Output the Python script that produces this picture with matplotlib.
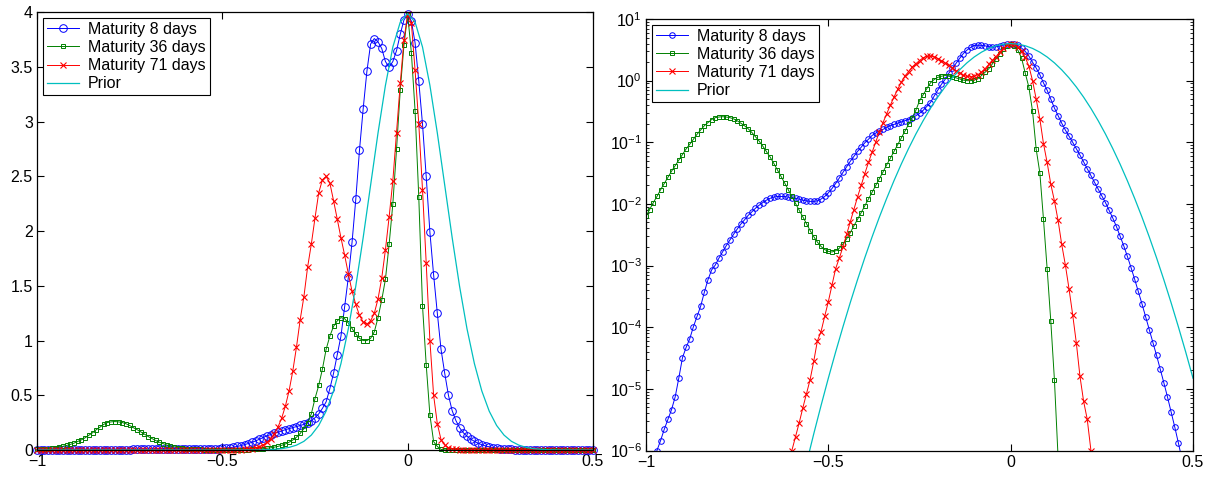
import numpy as np
import matplotlib
matplotlib.use("Agg")
import matplotlib.pyplot as plt
from matplotlib.ticker import FuncFormatter, LogLocator, NullFormatter

plt.rcParams['font.family'] = ['Liberation Sans', 'DejaVu Sans']
plt.rcParams['mathtext.default'] = 'regular'

# sample points of the three maturities, -1 .. 0.5 in steps of 0.01
x = np.linspace(-1.0, 0.5, 151)

# density, maturity 8 days (one row = 0.1 in x)
dens_8 = [
    2.5e-7, 4.0e-7, 6.3e-7, 1.0e-6, 1.45e-6, 2.2e-6, 3.2e-6, 4.6e-6, 7.4e-6, 1.5e-5,
    3.2e-5, 4.7e-5, 6.5e-5, 1.02e-4, 1.5e-4, 2.2e-4, 3.7e-4, 5.9e-4, 8.5e-4, 1.02e-3,
    1.32e-3, 1.66e-3, 2.1e-3, 2.6e-3, 3.2e-3, 3.9e-3, 4.7e-3, 5.5e-3, 6.5e-3, 7.4e-3,
    8.5e-3, 9.5e-3, 0.0105, 0.0115, 0.0123, 0.0129, 0.0132, 0.0132, 0.0132, 0.0129,
    0.0126, 0.0123, 0.0120, 0.0115, 0.0112, 0.0110, 0.0110, 0.0112, 0.0120, 0.0132,
    0.0151, 0.0178, 0.0214, 0.0263, 0.0324, 0.0398, 0.049, 0.059, 0.071, 0.083,
    0.098, 0.112, 0.129, 0.141, 0.155, 0.162, 0.174, 0.186, 0.195, 0.204,
    0.214, 0.224, 0.234, 0.251, 0.269, 0.295, 0.33, 0.38, 0.44, 0.56,
    0.70, 0.87, 1.04, 1.31, 1.58, 1.90, 2.29, 2.74, 3.12, 3.46,
    3.71, 3.76, 3.73, 3.67, 3.55, 3.50, 3.55, 3.65, 3.80, 3.93,
    3.98, 3.92, 3.72, 3.37, 2.98, 2.50, 1.99, 1.60, 1.25, 0.92,
    0.70, 0.50, 0.36, 0.27, 0.204, 0.158, 0.126, 0.100, 0.079, 0.062,
    0.048, 0.037, 0.029, 0.0224, 0.0174, 0.0135, 0.0105, 7.9e-3, 5.9e-3, 4.3e-3,
    3.0e-3, 2.1e-3, 1.41e-3, 9.3e-4, 6.0e-4, 3.8e-4, 2.4e-4, 1.48e-4, 9.1e-5, 5.6e-5,
    3.5e-5, 2.1e-5, 1.26e-5, 7.4e-6, 4.2e-6, 2.4e-6, 1.32e-6, 7.1e-7, 3.7e-7, 1.9e-7,
    1.0e-7,
]

# density, maturity 36 days
dens_36 = [
    6.3e-3, 8.1e-3, 0.0105, 0.0132, 0.0170, 0.0214, 0.0269, 0.0339, 0.0417, 0.0513,
    0.063, 0.078, 0.093, 0.112, 0.135, 0.158, 0.186, 0.209, 0.234, 0.251,
    0.257, 0.260, 0.257, 0.251, 0.240, 0.224, 0.204, 0.186, 0.166, 0.145,
    0.123, 0.105, 0.087, 0.071, 0.058, 0.046, 0.036, 0.028, 0.022, 0.017,
    0.0132, 0.0102, 7.9e-3, 6.2e-3, 4.8e-3, 3.7e-3, 2.95e-3, 2.4e-3, 2.04e-3, 1.82e-3,
    1.70e-3, 1.66e-3, 1.74e-3, 1.91e-3, 2.24e-3, 2.7e-3, 3.4e-3, 4.4e-3, 5.6e-3, 7.2e-3,
    9.3e-3, 0.0120, 0.0155, 0.020, 0.0257, 0.033, 0.043, 0.055, 0.071, 0.091,
    0.117, 0.151, 0.195, 0.251, 0.33, 0.47, 0.59, 0.74, 0.92, 1.04,
    1.13, 1.18, 1.21, 1.20, 1.16, 1.11, 1.06, 1.02, 1.00, 1.00,
    1.02, 1.08, 1.21, 1.37, 1.56, 1.88, 2.25, 2.75, 3.29, 3.70,
    3.98, 3.63, 3.10, 2.31, 1.32, 0.78, 0.32, 0.077, 0.032, 5.6e-3,
    8.9e-4, 1.26e-4, 1.4e-5, 8.0e-7, 4.0e-8, 1.6e-9, 1e-10, 1e-10, 1e-10, 1e-10,
    1e-10, 1e-10, 1e-10, 1e-10, 1e-10, 1e-10, 1e-10, 1e-10, 1e-10, 1e-10,
    1e-10, 1e-10, 1e-10, 1e-10, 1e-10, 1e-10, 1e-10, 1e-10, 1e-10, 1e-10,
    1e-10, 1e-10, 1e-10, 1e-10, 1e-10, 1e-10, 1e-10, 1e-10, 1e-10, 1e-10,
    1e-10,
]

# density, maturity 71 days
dens_71 = [
    1e-8, 1e-8, 1e-8, 1e-8, 1e-8, 1e-8, 1e-8, 1e-8, 1e-8, 1e-8,
    1e-8, 1e-8, 1e-8, 1e-8, 1e-8, 1e-8, 1e-8, 1e-8, 1e-8, 1e-8,
    1e-8, 1e-8, 1e-8, 1e-8, 1e-8, 1e-8, 1e-8, 1e-8, 1e-8, 1e-8,
    1e-8, 1e-8, 1e-8, 1e-8, 1e-8, 4e-8, 8e-8, 1.6e-7, 3.2e-7, 5.6e-7,
    1.0e-6, 1.66e-6, 2.8e-6, 4.9e-6, 8.3e-6, 1.41e-5, 2.8e-5, 6.0e-5, 8.5e-5, 1.5e-4,
    2.6e-4, 4.8e-4, 8.9e-4, 1.32e-3, 2.0e-3, 3.2e-3, 5.1e-3, 8.1e-3, 0.0129, 0.020,
    0.031, 0.047, 0.069, 0.102, 0.148, 0.209, 0.29, 0.40, 0.54, 0.72,
    0.94, 1.19, 1.40, 1.67, 1.88, 2.12, 2.35, 2.47, 2.50, 2.44,
    2.28, 2.11, 1.94, 1.78, 1.61, 1.45, 1.33, 1.23, 1.17, 1.15,
    1.18, 1.25, 1.38, 1.57, 1.83, 2.13, 2.46, 2.90, 3.35, 3.75,
    3.98, 3.90, 3.47, 2.98, 2.38, 1.71, 1.00, 0.50, 0.24, 0.095,
    0.047, 0.021, 0.0112, 5.4e-3, 2.2e-3, 1.02e-3, 4.2e-4, 1.6e-4, 5.6e-5, 1.6e-5,
    6.3e-6, 3.2e-6, 1.0e-6, 3.2e-7, 1e-7, 1e-8, 1e-8, 1e-8, 1e-8, 1e-8,
    1e-8, 1e-8, 1e-8, 1e-8, 1e-8, 1e-8, 1e-8, 1e-8, 1e-8, 1e-8,
    1e-8, 1e-8, 1e-8, 1e-8, 1e-8, 1e-8, 1e-8, 1e-8, 1e-8, 1e-8,
    1e-8,
]

# prior density, -1 .. 0.5 in steps of 0.02
x_prior = np.linspace(-1.0, 0.5, 76)
dens_prior = [
    7.7e-22, 5.6e-21, 3.9e-20, 2.6e-19, 1.7e-18, 1.0e-17, 6.1e-17, 3.5e-16, 1.9e-15, 1.0e-14,
    5.0e-14, 2.4e-13, 1.1e-12, 5.1e-12, 2.2e-11, 9.1e-11, 3.6e-10, 1.39e-9, 5.1e-9, 1.79e-8,
    6.08e-8, 1.98e-7, 6.18e-7, 1.86e-6, 5.36e-6, 1.49e-5, 3.96e-5, 1.01e-4, 2.49e-4, 5.89e-4,
    1.34e-3, 2.92e-3, 6.12e-3, 0.0123, 0.0238, 0.0443, 0.0791, 0.136, 0.224, 0.355,
    0.540, 0.790, 1.109, 1.497, 1.942, 2.420, 2.897, 3.332, 3.683, 3.910,
    3.989, 3.910, 3.683, 3.332, 2.897, 2.420, 1.942, 1.497, 1.109, 0.790,
    0.540, 0.355, 0.224, 0.136, 0.0791, 0.0443, 0.0238, 0.0123, 6.12e-3, 2.92e-3,
    1.34e-3, 5.89e-4, 2.49e-4, 1.01e-4, 3.96e-5, 1.49e-5,
]

labels = ['Maturity 8 days', 'Maturity 36 days', 'Maturity 71 days', 'Prior']
colors = ['#0000ff', '#008000', '#ff0000', '#00bfbf']
FS = 11.5


def minus_fmt(v, pos):
    return ('%g' % v).replace('-', '\u2212')


def style_axes(ax):
    ax.tick_params(direction='in', top=True, right=True, labelsize=FS,
                   length=5, width=0.8, pad=3)
    ax.tick_params(which='minor', direction='in', top=False, right=True,
                   length=2.5, width=0.6)
    for s in ax.spines.values():
        s.set_linewidth(0.9)
    ax.set_xlim(-1, 0.5)
    ax.set_xticks([-1, -0.5, 0, 0.5])
    ax.xaxis.set_major_formatter(FuncFormatter(minus_fmt))


def draw(ax, msize, clip):
    ax.plot(x, dens_8, color=colors[0], marker='o', ms=msize[0], mfc='none',
            mew=0.7, lw=0.7, label=labels[0], clip_on=clip)
    ax.plot(x, dens_36, color=colors[1], marker='s', ms=msize[1], mfc='none',
            mew=0.7, lw=0.7, label=labels[1], clip_on=clip)
    ax.plot(x, dens_71, color=colors[2], marker='x', ms=msize[2],
            mew=0.8, lw=0.7, label=labels[2], clip_on=clip)
    ax.plot(x_prior, dens_prior, color=colors[3], lw=0.9, label=labels[3],
            clip_on=clip)
    leg = ax.legend(loc='upper left', fontsize=FS, fancybox=False,
                    framealpha=1, edgecolor='black', borderaxespad=0.35,
                    borderpad=0.25, labelspacing=0.2, handlelength=2.0,
                    handletextpad=0.6)
    leg.get_frame().set_linewidth(0.8)


fig = plt.figure(figsize=(12.16, 4.79), dpi=100)

# left: linear scale
ax1 = fig.add_axes([37 / 1216, 1 - 450 / 479, 556 / 1216, 437.7 / 479])
draw(ax1, (5.5, 3.0, 4.0), False)
style_axes(ax1)
ax1.set_ylim(0, 4)
ax1.set_yticks(np.arange(0, 4.01, 0.5))
ax1.yaxis.set_major_formatter(FuncFormatter(minus_fmt))

# right: log scale
ax2 = fig.add_axes([646 / 1216, 1 - 450.5 / 479, 547 / 1216, 431.5 / 479])
draw(ax2, (4.0, 3.2, 4.0), True)
style_axes(ax2)
ax2.set_yscale('log')
ax2.set_ylim(1e-6, 10)
ax2.yaxis.set_major_locator(LogLocator(base=10, numticks=10))
ax2.yaxis.set_minor_locator(LogLocator(base=10, subs=np.arange(2, 10), numticks=20))
ax2.yaxis.set_minor_formatter(NullFormatter())

fig.savefig('out.png', dpi=100)
